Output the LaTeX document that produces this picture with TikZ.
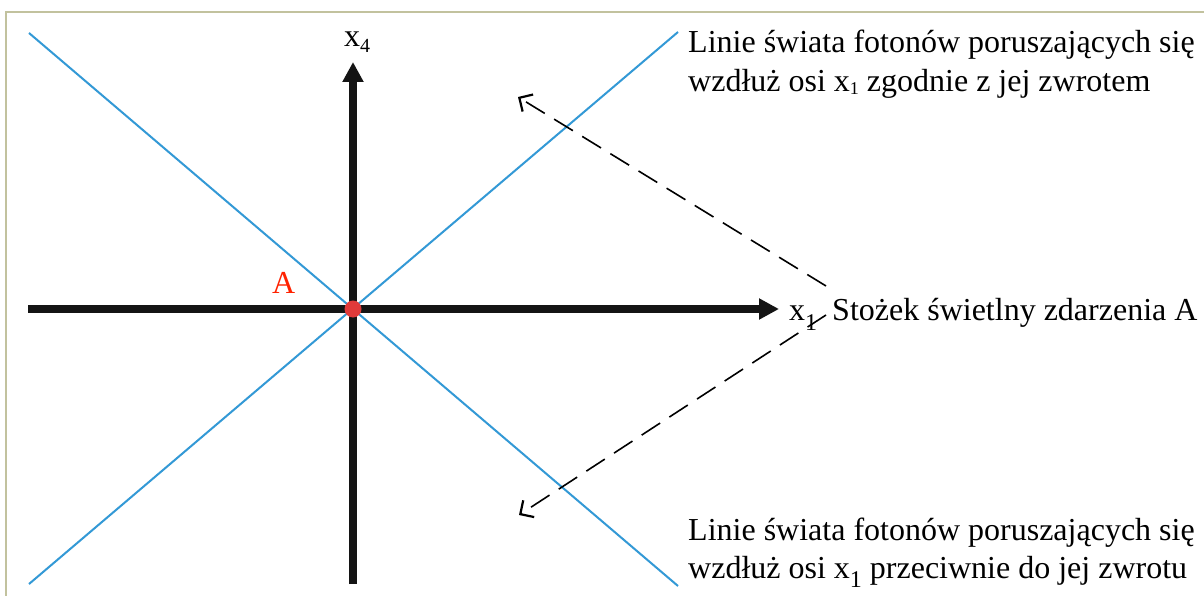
\documentclass[tikz,border=0pt]{standalone}
\usepackage{fontspec}
\setmainfont{Liberation Serif}
\usetikzlibrary{arrows.meta}
\definecolor{frameol}{HTML}{C2C29E}
\definecolor{coneblue}{HTML}{3399D6}
\definecolor{eventred}{HTML}{E03A3A}
\definecolor{labelred}{HTML}{FF2200}
\newcommand\lowsub[3]{\raisebox{-#2pt}{\fontsize{#1}{#1}\selectfont #3}}
\tikzset{
  txt/.style={inner sep=0pt, anchor=base west, font=\fontsize{32}{38}\selectfont},
  axis/.style={line width=8pt, black!92, -{Triangle[length=20pt,width=20pt]}},
  cone/.style={line width=2pt, coneblue},
  pointer/.style={line width=1.6pt, dash pattern=on 22pt off 11pt, -{Straight Barb[length=10pt,width=20pt,line width=2.2pt]}}
}
\begin{document}
\begin{tikzpicture}[x=1pt,y=-1pt]
\useasboundingbox (0,0) rectangle (1204,596);
\fill[white] (0,0) rectangle (1204,596);
\draw[frameol, line width=2pt] (6,700) -- (6,12) -- (1300,12);
% light cone
\coordinate (c1a) at (29,33);
\coordinate (c1b) at (678,586);
\coordinate (c2a) at (29,584);
\coordinate (c2b) at (678,32);
\draw[cone] (c1a) -- (c1b);
\draw[cone] (c2a) -- (c2b);
% axes
\coordinate (O) at (353,309);
\coordinate (xs) at (28,309);
\coordinate (xe) at (779,309);
\coordinate (ys) at (353,584);
\coordinate (ye) at (353,62);
\draw[axis] (xs) -- (xe);
\draw[axis] (ys) -- (ye);
\fill[eventred] (O) circle (8.5pt);
% labels
\node[txt] (x4) at (344,47) {x\lowsub{20}{6}{4}};
\node[txt] (x1) at (789,320) {x\lowsub{24}{10}{1}};
\node[txt, text=labelred] (A) at (272,293) {A};
\node[txt] (cone) at (832,320) {Stożek świetlny zdarzenia A};
\node[txt] (up1) at (688,53) {Linie świata fotonów poruszających się};
\node[txt] (up2) at (688,92) {wzdłuż osi x\lowsub{18}{3}{1} zgodnie z jej zwrotem};
\node[txt] (lo1) at (688,540) {Linie świata fotonów poruszających się};
\node[txt] (lo2) at (688,578) {wzdłuż osi x\lowsub{24}{9}{1} przeciwnie do jej zwrotu};
% pointers
\coordinate (pu) at (826,286);
\coordinate (pd) at (826,315);
\coordinate (tu) at (518,97);
\coordinate (td) at (519,515);
\draw[pointer] (pu) -- (tu);
\draw[pointer] (pd) -- (td);
\end{tikzpicture}
\end{document}
